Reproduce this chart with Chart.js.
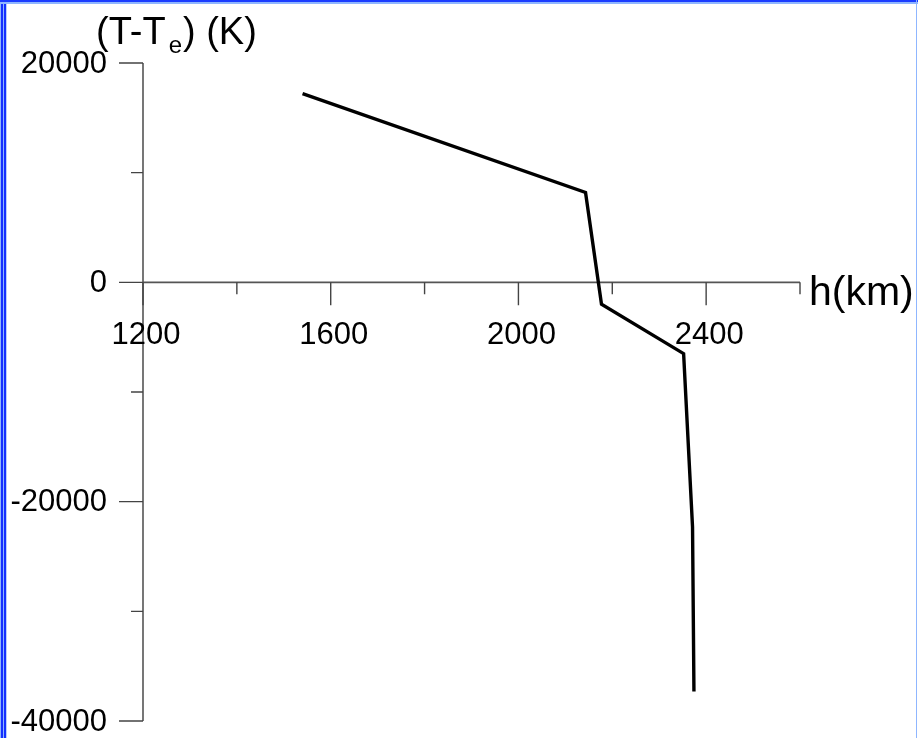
<!DOCTYPE html>
<html lang="en">
<head>
    <meta charset="UTF-8">
    <title>(T-Te) vs h</title>
    <script src="https://cdn.jsdelivr.net/npm/chart.js"></script>
    <style>
        html, body {
            margin: 0;
            padding: 0;
            background: #ffffff;
        }
        .wrap {
            position: relative;
            width: 918px;
            height: 738px;
            overflow: hidden;
        }
        /* window frame lines */
        .frame-left {
            position: absolute; left: 0; top: 0; width: 7px; height: 738px;
            background: linear-gradient(to right, #8fb6ff 0 1px, #1430ff 1px 3px, #8fb6ff 3px 4px, #1430ff 4px 6px, #b8d0ff 6px 7px);
        }
        .frame-top {
            position: absolute; left: 0; top: 0; width: 918px; height: 4px;
            background: linear-gradient(to bottom, #1a3cff 0 2px, #8fb6ff 2px 4px);
        }
        .frame-right {
            position: absolute; right: 1px; top: 0; width: 1px; height: 738px;
            background: #8fb6ff;
        }
    </style>
</head>
<body>
<div class="wrap">
    <canvas id="profil" width="918" height="738"></canvas>
    <div class="frame-left"></div>
    <div class="frame-top"></div>
    <div class="frame-right"></div>
</div>
<script>
    // profil de temperature
    const heightKm = [1540, 2143, 2177, 2352, 2371, 2374];
    const deltaT = [17200, 8200, -2000, -6500, -22300, -37300];

    // graduations
    const xMajorTicks = [1200, 1600, 2000, 2400];
    const xMinorTicks = [1400, 1800, 2200, 2600];
    const yMajorTicks = [20000, 0, -20000, -40000];
    const yMinorTicks = [10000, -10000, -30000];

    const FONT = "'Liberation Sans', Arial, sans-serif";

    // axes en croix : axe h sur T-Te = 0, axe T-Te sur h = 1200
    const crossAxes = {
        id: 'crossAxes',
        beforeDatasetsDraw(chart) {
            const ctx = chart.ctx;
            const xs = chart.scales.x;
            const ys = chart.scales.y;
            const x0 = xs.getPixelForValue(1200);
            const x1 = xs.getPixelForValue(2600);
            const y0 = ys.getPixelForValue(0);
            const yTop = ys.getPixelForValue(20000);
            const yBot = ys.getPixelForValue(-40000);

            ctx.save();
            ctx.strokeStyle = '#555555';
            ctx.lineWidth = 1.6;
            ctx.beginPath();
            ctx.moveTo(x0, yTop);
            ctx.lineTo(x0, yBot);
            ctx.moveTo(x0, y0);
            ctx.lineTo(x1, y0);
            ctx.stroke();

            ctx.strokeStyle = '#444444';
            ctx.lineWidth = 1.4;
            ctx.beginPath();
            yMajorTicks.forEach(v => {
                const y = ys.getPixelForValue(v);
                ctx.moveTo(x0 - 24, y);
                ctx.lineTo(x0, y);
            });
            yMinorTicks.forEach(v => {
                const y = ys.getPixelForValue(v);
                ctx.moveTo(x0 - 12, y);
                ctx.lineTo(x0, y);
            });
            xMajorTicks.forEach(v => {
                const x = xs.getPixelForValue(v);
                ctx.moveTo(x, y0);
                ctx.lineTo(x, y0 + 23);
            });
            xMinorTicks.forEach(v => {
                const x = xs.getPixelForValue(v);
                ctx.moveTo(x, y0);
                ctx.lineTo(x, y0 + 12);
            });
            ctx.stroke();

            ctx.fillStyle = '#000000';
            ctx.font = '31px ' + FONT;
            ctx.textAlign = 'right';
            ctx.textBaseline = 'middle';
            yMajorTicks.forEach(v => {
                ctx.fillText(String(v), 107, ys.getPixelForValue(v) + 1);
            });
            ctx.textAlign = 'center';
            xMajorTicks.forEach(v => {
                ctx.fillText(String(v), xs.getPixelForValue(v) + 3, y0 + 53);
            });

            // titres des axes
            ctx.textAlign = 'left';
            ctx.textBaseline = 'alphabetic';
            ctx.font = '41px ' + FONT;
            ctx.fillText('h(km)', 809, y0 + 23);

            ctx.font = '38px ' + FONT;
            let tx = 96;
            const ty = 44;
            ctx.fillText('(T-T', tx, ty);
            tx += ctx.measureText('(T-T').width + 3;
            ctx.font = '24px ' + FONT;
            ctx.fillText('e', tx, ty + 9);
            tx += ctx.measureText('e').width + 1;
            ctx.font = '38px ' + FONT;
            ctx.fillText(') (K)', tx, ty);
            ctx.restore();
        }
    };

    new Chart(document.getElementById('profil'), {
        type: 'line',
        data: {
            datasets: [{
                label: 'T - Te',
                data: heightKm.map((h, i) => ({ x: h, y: deltaT[i] })),
                borderColor: '#000000',
                borderWidth: 3.4,
                pointRadius: 0,
                tension: 0,
                fill: false
            }]
        },
        options: {
            responsive: false,
            animation: false,
            layout: {
                padding: { left: 143, right: 118, top: 63, bottom: 17 }
            },
            plugins: {
                legend: { display: false },
                tooltip: { enabled: false }
            },
            scales: {
                x: { type: 'linear', min: 1200, max: 2600, display: false },
                y: { type: 'linear', min: -40000, max: 20000, display: false }
            }
        },
        plugins: [crossAxes]
    });
</script>
</body>
</html>
